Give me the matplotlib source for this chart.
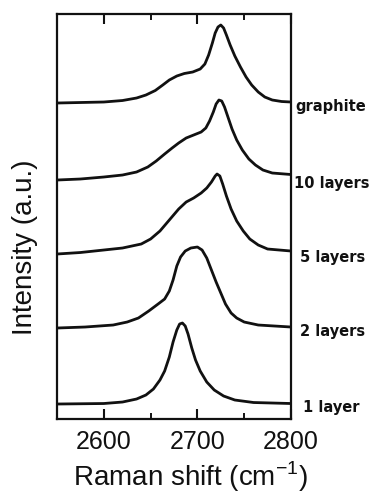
import matplotlib
matplotlib.use("Agg")
import matplotlib.pyplot as plt
from matplotlib.ticker import MultipleLocator

plt.rcParams['font.family'] = ['Liberation Sans', 'DejaVu Sans']

# 2D band spectra, Raman shift (cm^-1) vs intensity above each trace's baseline (a.u.)
shift_1 = [2550, 2600, 2620, 2635, 2645, 2653, 2660, 2665, 2670, 2674, 2678, 2681, 2684,
           2687, 2690, 2694, 2698, 2703, 2710, 2718, 2728, 2740, 2760, 2800]
int_1 = [0, 0.5, 2, 5, 9, 15, 24, 33, 47, 62, 74, 80, 81,
         78, 70, 56, 44, 33, 22, 14, 8, 4, 1.5, 0.5]

shift_2 = [2550, 2580, 2610, 2625, 2637, 2648, 2658, 2665, 2670, 2674, 2678, 2682, 2687,
           2693, 2700, 2705, 2710, 2715, 2720, 2725, 2730, 2736, 2742, 2750, 2765, 2800]
int_2 = [0, 1, 3, 6, 10, 17, 24, 29, 37, 48, 62, 71, 77,
         80, 81, 78, 70, 58, 46, 35, 24, 15, 10, 6, 3, 1]

shift_5 = [2550, 2575, 2600, 2620, 2640, 2650, 2660, 2670, 2680, 2688, 2696, 2704, 2710,
           2715, 2719, 2721, 2724, 2727, 2731, 2736, 2742, 2749, 2756, 2765, 2775, 2800]
int_5 = [0, 1.5, 4, 6, 10, 15, 23, 34, 45, 52, 56, 61, 66,
         72, 78, 80, 78, 70, 58, 45, 33, 23, 15, 9, 5, 3]

shift_10 = [2550, 2575, 2600, 2620, 2635, 2647, 2656, 2665, 2673, 2680, 2688, 2696, 2704,
            2709, 2713, 2717, 2720, 2723, 2726, 2729, 2733, 2737, 2742, 2748, 2755, 2762,
            2770, 2780, 2800]
int_10 = [0, 1, 3, 5, 8, 13, 19, 26, 32, 37, 42, 45, 48,
          52, 59, 68, 76, 80, 79, 73, 62, 51, 40, 30, 21, 15,
          10, 7, 5.5]

shift_gr = [2550, 2575, 2600, 2620, 2635, 2645, 2655, 2663, 2670, 2678, 2686, 2695, 2703,
            2708, 2712, 2716, 2719, 2722, 2725, 2728, 2731, 2735, 2740, 2746, 2752, 2758,
            2765, 2772, 2780, 2790, 2800]
int_gr = [0, 0.5, 1, 2.5, 5, 8, 12.5, 18, 23, 27, 29.5, 31, 34,
          39, 48, 60, 70, 76, 78, 75, 68, 58, 47, 36, 26, 18,
          11, 6, 3, 1.5, 1]

labels = ['1 layer', '2 layers', '5 layers', '10 layers', 'graphite']
offsets = [15, 91, 165, 239, 316]

shifts = [shift_1, shift_2, shift_5, shift_10, shift_gr]
intensities = [int_1, int_2, int_5, int_10, int_gr]

fig = plt.figure(figsize=(3.79, 4.95), dpi=100)
ax = fig.add_axes([0.1504, 0.1535, 0.6174, 0.8182])

for x, y, off in zip(shifts, intensities, offsets):
    ax.plot(x, [v + off for v in y], color='#111111', lw=2.0, solid_joinstyle='round')

# trace names sit just right of the frame, a bit below each baseline
label_x = [2813, 2810, 2810, 2803, 2805]
for lab, off, lx in zip(labels, offsets, label_x):
    ax.text(lx, off - 3, lab, fontsize=10.5, fontweight='bold', family='DejaVu Sans',
            ha='left', va='center', color='#111111', clip_on=False)

ax.set_xlim(2550, 2800)
ax.set_ylim(0, 405)
ax.xaxis.set_major_locator(MultipleLocator(100))
ax.xaxis.set_minor_locator(MultipleLocator(50))
ax.set_yticks([])
ax.tick_params(axis='x', which='major', direction='in', length=7, width=1.5,
               top=True, labelsize=18, pad=8, colors='#111111')
ax.tick_params(axis='x', which='minor', direction='in', length=4, width=1.3, top=True)
for sp in ax.spines.values():
    sp.set_linewidth(1.6)
    sp.set_color('#111111')

fig.text(190 / 379, 1 - 477 / 495, 'Raman shift (cm$^{\\mathregular{-1}}$)',
         fontsize=20, ha='center', va='center', color='#111111')
fig.text(25 / 379, 1 - 247 / 495, 'Intensity (a.u.)', fontsize=20, rotation=90,
         ha='center', va='center', color='#111111')

fig.savefig('out.png', dpi=100)
